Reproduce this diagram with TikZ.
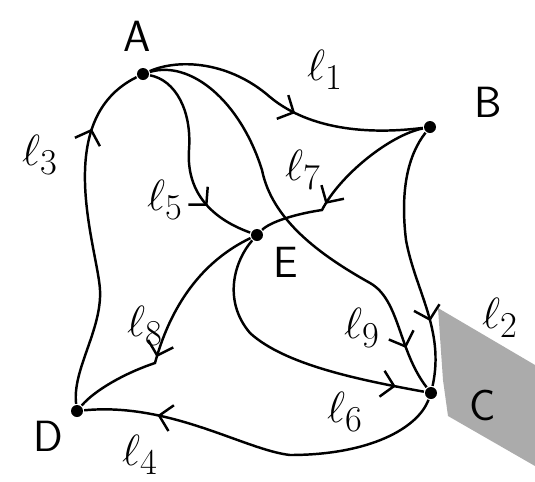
\documentclass[tikz,border=0pt]{standalone}
\usepackage{xcolor}
\usepackage{tikz}
\usetikzlibrary{arrows.meta,decorations.markings}
\definecolor{scangray}{HTML}{ABABAB}

\begin{document}
\begin{tikzpicture}[
  x=0.02cm, y=-0.02cm,
  line width=1.4pt,
  vertex/.style={
    circle,
    fill=black,
    inner sep=0pt,
    minimum size=0.24cm
  },
  vname/.style={font=\Huge\sffamily},
  lname/.style={font=\Huge},
  midarrow/.style={
    postaction={decorate},
    decoration={markings,
      mark=at position #1 with {\arrow{Straight Barb[length=7pt,width=15pt]}}}
  }
]
\useasboundingbox (0,0) rectangle (535,481);
\fill[scangray] (438,308) -- (535,365) -- (535,466) -- (448,416) -- (443,380) -- cycle;

\node[vertex] (A) at (143,74) {};
\node[vertex] (B) at (430,127) {};
\node[vertex] (C) at (431,393) {};
\node[vertex] (D) at (77,411) {};
\node[vertex] (E) at (257,235) {};

\node[vname] (nA) at (137,36) {A};
\node[vname] (nB) at (488,102) {B};
\node[vname] (nC) at (483,405) {C};
\node[vname] (nD) at (48,436) {D};
\node[vname] (nE) at (286,262) {E};

\node[lname] (l1) at (325,70) {$\ell_1$};
\node[lname] (l2) at (500,318) {$\ell_2$};
\node[lname] (l3) at (40,155) {$\ell_3$};
\node[lname] (l4) at (140,455) {$\ell_4$};
\node[lname] (l5) at (165,200) {$\ell_5$};
\node[lname] (l6) at (345,412) {$\ell_6$};
\node[lname] (l7) at (303,170) {$\ell_7$};
\node[lname] (l8) at (145,326) {$\ell_8$};
\node[lname] (l9) at (362,328) {$\ell_9$};

\draw[midarrow=0.55] (A) .. controls (180,58) and (230,62) .. (270,97)
  .. controls (300,122) and (350,137) .. (B);
\draw[midarrow=0.75] (B) .. controls (408,155) and (400,190) .. (406,240)
  .. controls (415,290) and (445,330) .. (C);
\draw[midarrow=0.8] (D) .. controls (72,370) and (102,330) .. (100,290)
  .. controls (98,250) and (50,120) .. (A);
\draw[midarrow=0.8] (C) .. controls (418,428) and (370,455) .. (290,455)
  .. controls (245,450) and (170,402) .. (D);
\draw[midarrow=0.75] (A) .. controls (175,80) and (192,110) .. (189,150)
  .. controls (186,195) and (215,220) .. (E);
\draw[midarrow=0.9] (E) .. controls (235,260) and (222,300) .. (250,333)
  .. controls (285,365) and (360,380) .. (C);
\draw[midarrow=0.64] (B) .. controls (390,135) and (340,175) .. (322,210)
  .. controls (295,214) and (270,222) .. (E);
\draw[midarrow=0.63] (E) .. controls (215,255) and (175,290) .. (155,363)
  .. controls (125,373) and (95,390) .. (D);
\draw[midarrow=0.9] (A) .. controls (190,60) and (240,100) .. (262,170)
  .. controls (272,220) and (320,255) .. (370,283)
  .. controls (400,300) and (398,350) .. (C);
\end{tikzpicture}
\end{document}
